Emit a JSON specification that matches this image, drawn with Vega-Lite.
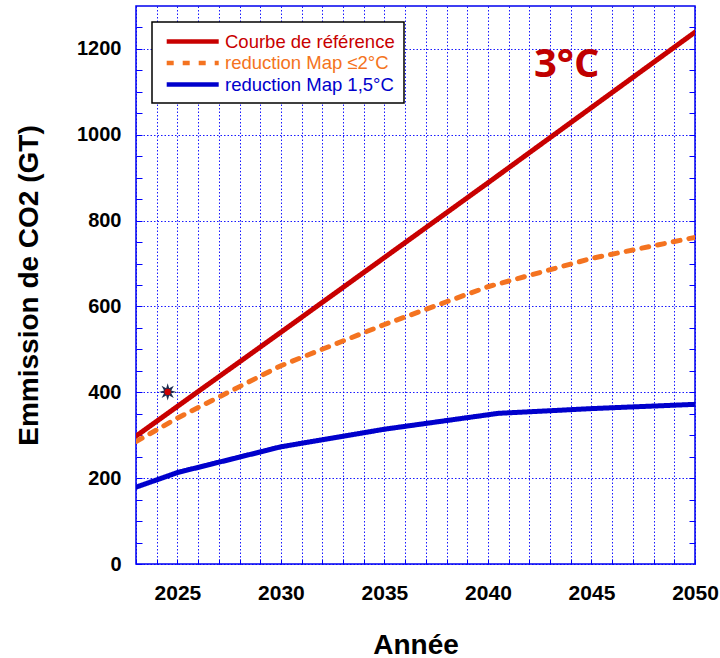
{
  "$schema": "https://vega.github.io/schema/vega-lite/v6.json",
  "autosize": {"type": "none"},
  "padding": {"left": 136, "top": 6, "right": 25, "bottom": 94},
  "width": 559,
  "height": 558,
  "background": "white",
  "config": {
    "view": {"stroke": "#0000ee", "strokeWidth": 1.5},
    "font": "Liberation Sans"
  },
  "datasets": {
    "series": [
      {"year": 2023, "value": 298, "series": "Courbe de référence"},
      {"year": 2030, "value": 540, "series": "Courbe de référence"},
      {"year": 2040, "value": 888, "series": "Courbe de référence"},
      {"year": 2050, "value": 1239, "series": "Courbe de référence"},
      {"year": 2023, "value": 285, "series": "reduction Map ≤2°C"},
      {"year": 2025, "value": 340, "series": "reduction Map ≤2°C"},
      {"year": 2030, "value": 462, "series": "reduction Map ≤2°C"},
      {"year": 2035, "value": 558, "series": "reduction Map ≤2°C"},
      {"year": 2038, "value": 611, "series": "reduction Map ≤2°C"},
      {"year": 2040, "value": 646, "series": "reduction Map ≤2°C"},
      {"year": 2045, "value": 712, "series": "reduction Map ≤2°C"},
      {"year": 2050, "value": 761, "series": "reduction Map ≤2°C"},
      {"year": 2023, "value": 179, "series": "reduction Map 1,5°C"},
      {"year": 2025, "value": 213, "series": "reduction Map 1,5°C"},
      {"year": 2030, "value": 273, "series": "reduction Map 1,5°C"},
      {"year": 2035, "value": 314, "series": "reduction Map 1,5°C"},
      {"year": 2040.5, "value": 351, "series": "reduction Map 1,5°C"},
      {"year": 2045, "value": 362, "series": "reduction Map 1,5°C"},
      {"year": 2050, "value": 372, "series": "reduction Map 1,5°C"}
    ],
    "star": [{"year": 2024.53, "value": 401}],
    "note": [{"year": 2043.8, "value": 1162, "label": "3°C"}]
  },
  "encoding": {
    "x": {
      "field": "year", "type": "quantitative",
      "scale": {"domain": [2023, 2050], "nice": false, "zero": false},
      "axis": {
        "title": "Année",
        "titleFontSize": 28, "titleFontWeight": "bold", "titleColor": "black", "titlePadding": 28,
        "values": [2023,2024,2025,2026,2027,2028,2029,2030,2031,2032,2033,2034,2035,2036,2037,2038,2039,2040,2041,2042,2043,2044,2045,2046,2047,2048,2049,2050],
        "labelExpr": "datum.value % 5 == 0 ? datum.label : ''",
        "format": "d",
        "labelFontSize": 21, "labelFontWeight": "bold", "labelColor": "black",
        "labelPadding": 23, "labelFlush": false, "labelOverlap": false, "labelBound": false,
        "ticks": true, "tickSize": -5, "tickColor": "#0000ff", "tickWidth": 1,
        "domain": false,
        "grid": true, "gridColor": "#0000ff", "gridDash": [1.5, 2], "gridWidth": 1, "gridOpacity": 0.9
      }
    }
  },
  "layer": [
    {
      "encoding": {
        "y": {
          "field": "value", "type": "quantitative",
          "scale": {"domain": [0, 1300], "nice": false},
          "axis": {
            "title": "Emmission de CO2 (GT)",
            "titleFontSize": 28, "titleFontWeight": "bold", "titleColor": "black", "titlePadding": 33,
            "values": [0,50,100,150,200,250,300,350,400,450,500,550,600,650,700,750,800,850,900,950,1000,1050,1100,1150,1200,1250],
            "labelExpr": "datum.value % 200 == 0 ? datum.label : ''",
            "format": "d",
            "labelFontSize": 20, "labelFontWeight": "bold", "labelColor": "black",
            "labelPadding": 21, "labelOverlap": false, "labelBound": false,
            "ticks": true, "tickSize": -6, "tickColor": "#0000ff", "tickWidth": 1,
            "domain": false,
            "grid": true, "gridColor": "#0000ff", "gridDash": [1.5, 2], "gridWidth": 1,
            "gridOpacity": {"condition": {"test": "datum.value % 200 == 0", "value": 0.9}, "value": 0}
          }
        }
      },
      "layer": [
        {
          "data": {"name": "series"},
          "mark": {"type": "line", "strokeWidth": 5, "strokeCap": "round", "clip": true},
          "encoding": {
            "color": {
              "field": "series", "type": "nominal",
              "scale": {
                "domain": ["Courbe de référence", "reduction Map ≤2°C", "reduction Map 1,5°C"],
                "range": ["#c80000", "#f47320", "#0000cc"]
              },
              "legend": {
                "title": null,
                "orient": "top-left",
                "offset": 16,
                "padding": 9,
                "strokeColor": "black",
                "fillColor": "white",
                "symbolType": "M-0.6,0L5.9,0",
                "symbolSize": 256,
                "symbolStrokeWidth": 4.5,
                "labelOffset": 43,
                "labelFontSize": 18.5,
                "labelLimit": 400,
                "rowPadding": 1.5,
                "encode": {
                  "legend": {"update": {"strokeWidth": {"value": 1.5}}},
                  "symbols": {"update": {"strokeDash": {"signal": "datum.value === 'reduction Map ≤2°C' ? [6, 5] : [1, 0]"}, "strokeCap": {"value": "butt"}}},
                  "labels": {"update": {"fill": {"scale": "color", "field": "value"}}}
                }
              }
            },
            "strokeDash": {
              "field": "series", "type": "nominal",
              "scale": {
                "domain": ["Courbe de référence", "reduction Map ≤2°C", "reduction Map 1,5°C"],
                "range": [[1, 0], [7, 9], [1, 0]]
              },
              "legend": null
            }
          }
        },
        {
          "data": {"name": "note"},
          "mark": {"type": "text", "font": "Open Sans", "fontWeight": "bold", "fontSize": 40, "color": "#c00000", "align": "center", "baseline": "middle"},
          "encoding": {"text": {"field": "label"}}
        }
      ]
    },
    {
      "data": {"name": "star"},
      "encoding": {
        "y": {
          "field": "value", "type": "quantitative",
          "axis": {
            "orient": "right", "title": null, "labels": false, "domain": false, "grid": false,
            "values": [50,100,150,200,250,300,350,400,450,500,550,600,650,700,750,800,850,900,950,1000,1050,1100,1150,1200,1250],
            "ticks": true, "tickSize": -6, "tickColor": "#0000ff", "tickWidth": 1
          }
        }
      },
      "layer": [
        {
          "mark": {
            "type": "point", "filled": true, "opacity": 1,
            "shape": "M1,0L0.416,0.172L0.707,0.707L0.172,0.416L0,1L-0.172,0.416L-0.707,0.707L-0.416,0.172L-1,0L-0.416,-0.172L-0.707,-0.707L-0.172,-0.416L0,-1L0.172,-0.416L0.707,-0.707L0.416,-0.172Z",
            "size": 300, "color": "#1f2d50"
          }
        },
        {
          "mark": {"type": "point", "filled": true, "opacity": 1, "shape": "circle", "size": 40, "color": "#cc0000"}
        }
      ]
    }
  ],
  "resolve": {"axis": {"y": "independent"}}
}
